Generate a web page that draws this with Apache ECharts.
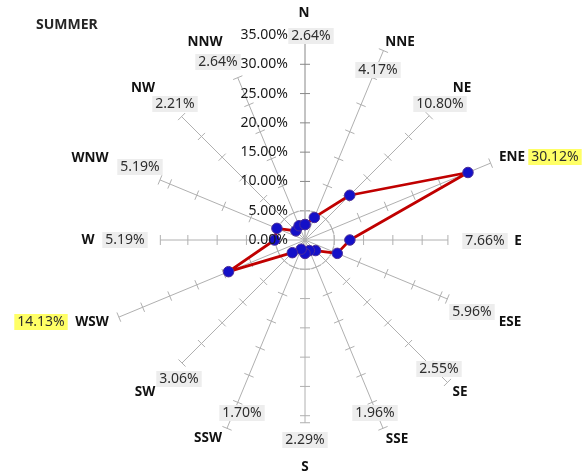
<!DOCTYPE html>
<html>
<head>
<meta charset="utf-8">
<script src="https://cdn.jsdelivr.net/npm/echarts@6/dist/echarts.min.js"></script>
<style>
html,body{margin:0;padding:0;background:#fff;}
#chart{width:584px;height:474px;}
</style>
</head>
<body>
<div id="chart"></div>
<script>
// ---- data ----
const TITLE = 'SUMMER';
const DIRS = ['N','NNE','NE','ENE','E','ESE','SE','SSE','S','SSW','SW','WSW','W','WNW','NW','NNW'];
const VALUES = [2.64, 4.17, 10.80, 30.12, 7.66, 5.96, 2.55, 1.96, 2.29, 1.70, 3.06, 14.13, 5.19, 5.19, 2.21, 2.64];
const RADIUS_TICKS = [0, 5, 10, 15, 20, 25, 30, 35];

// ---- layout (not data) ----
const CENTER = [305, 240];
const RADIUS_PX = 205;
const SPOKE_LEN = [35, 35, 30, 34.3, 24.4, 26.3, 34.4, 34.8, 31.2, 34.8, 29.7, 34.4, 24.7, 26.8, 29.8, 30];
const NAME_POS = [[304,13],[400,42],[462,88],[512,157],[518,241],[510,322],[460,392],[397,439],[305,467],[208,438],[145,392],[92,322],[88,240],[90,158],[143,88],[205,42]];
const VALUE_POS = [[311,36],[378,70],[440,104],[555,157],[485,241],[472,312],[439,369],[375,413],[305,440],[242,413],[179,379],[41,322],[125,240],[140,167],[175,104],[218,62]];

const FONT = '"Noto Sans", "Open Sans", sans-serif';
const fmt = v => v.toFixed(2) + '%';
const sorted = VALUES.slice().sort((a,b)=>b-a);
const HILITE = sorted[1];

const chart = echarts.init(document.getElementById('chart'));

const graphics = [];
DIRS.forEach((d, i) => {
  graphics.push({
    type: 'text', x: NAME_POS[i][0], y: NAME_POS[i][1], z: 10,
    style: { text: d, font: 'bold 13.5px ' + FONT, fill: '#111', align: 'center', verticalAlign: 'middle' }
  });
  graphics.push({
    type: 'text', x: VALUE_POS[i][0], y: VALUE_POS[i][1], z: 10,
    style: {
      text: fmt(VALUES[i]), font: '14px ' + FONT, fill: '#2e2e2e',
      align: 'center', verticalAlign: 'middle',
      backgroundColor: VALUES[i] >= HILITE ? '#FFFF66' : '#EDEDED',
      padding: [1, 3, 1, 3]
    }
  });
});

chart.setOption({
  animation: false,
  backgroundColor: '#fff',
  title: {
    text: TITLE, left: 31, top: 13,
    textStyle: { fontFamily: FONT, fontSize: 14, fontWeight: 'bold', color: '#262626' }
  },
  polar: { center: CENTER, radius: RADIUS_PX },
  angleAxis: {
    type: 'category', data: DIRS, startAngle: 90, clockwise: true, boundaryGap: false,
    axisLine: { show: false }, axisTick: { show: false }, axisLabel: { show: false }, splitLine: { show: false }
  },
  radiusAxis: {
    type: 'value', min: RADIUS_TICKS[0], max: RADIUS_TICKS[RADIUS_TICKS.length-1], interval: RADIUS_TICKS[1]-RADIUS_TICKS[0],
    axisLine: { show: false }, axisTick: { show: false }, splitLine: { show: false },
    axisLabel: { show: true, formatter: v => fmt(v), fontFamily: FONT, fontSize: 14, color: '#1a1a1a', margin: 17 },
    z: 5
  },
  graphic: graphics,
  series: [
    {
      type: 'custom', coordinateSystem: 'polar', z: 1, silent: true,
      data: DIRS.map((d, i) => [SPOKE_LEN[i], i]),
      renderItem: function (params, api) {
        const L = api.value(0);
        const i = params.dataIndex;
        const c = api.coord([0, i]);
        const e = api.coord([L, i]);
        const dx = e[0]-c[0], dy = e[1]-c[1];
        const len = Math.sqrt(dx*dx+dy*dy);
        const ux = dx/len, uy = dy/len;
        const px = -uy, py = ux;
        const col = i === 0 ? '#888888' : '#b0b0b0';
        const children = [{
          type: 'line', shape: { x1: c[0], y1: c[1], x2: e[0], y2: e[1] },
          style: { stroke: col, lineWidth: 1 }
        }];
        const tickAt = (p) => children.push({
          type: 'line', shape: { x1: p[0]-px*5, y1: p[1]-py*5, x2: p[0]+px*5, y2: p[1]+py*5 },
          style: { stroke: col, lineWidth: 1 }
        });
        for (let r = RADIUS_TICKS[1]; r < L - 0.5; r += RADIUS_TICKS[1]) tickAt(api.coord([r, i]));
        tickAt(e);
        if (i === 0) {
          const p5 = api.coord([RADIUS_TICKS[1], 0]);
          const rr = Math.sqrt((p5[0]-c[0])**2 + (p5[1]-c[1])**2);
          children.push({ type: 'circle', shape: { cx: c[0], cy: c[1], r: rr }, style: { fill: null, stroke: '#c4c4c4', lineWidth: 1 } });
        }
        return { type: 'group', children: children };
      }
    },
    {
      type: 'line', coordinateSystem: 'polar', z: 3,
      data: VALUES.map((v, i) => [v, i]).concat([[VALUES[0], 0]]),
      symbol: 'circle', symbolSize: 10.5,
      lineStyle: { color: '#C00000', width: 2.75 },
      itemStyle: { color: '#1410C8', borderColor: '#4B2E9A', borderWidth: 1 }
    }
  ]
});
</script>
</body>
</html>
